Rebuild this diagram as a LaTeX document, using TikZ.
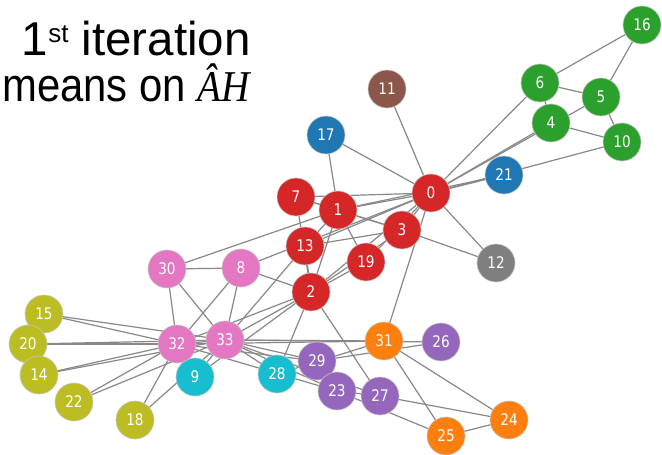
\documentclass[tikz,border=0pt]{standalone}
\usepackage{fontspec}
\usepackage{graphicx}
\setmainfont{Liberation Sans}
\newfontfamily\lblfont[FakeStretch=0.85]{DejaVu Sans}
\newfontfamily\symfont{Liberation Serif}
\usetikzlibrary{backgrounds}
\definecolor{tred}{HTML}{D62728}
\definecolor{tgreen}{HTML}{2CA02C}
\definecolor{tblue}{HTML}{1F77B4}
\definecolor{tbrown}{HTML}{8C564B}
\definecolor{tgray}{HTML}{7F7F7F}
\definecolor{tpink}{HTML}{E377C2}
\definecolor{tolive}{HTML}{BCBD22}
\definecolor{tcyan}{HTML}{17BECF}
\definecolor{tpurple}{HTML}{9467BD}
\definecolor{torange}{HTML}{FF7F0E}
\definecolor{edgegray}{HTML}{888888}
\begin{document}
\begin{tikzpicture}[x=1pt,y=-1pt,
  vtx/.style={circle, minimum size=38pt, inner sep=0pt, draw=gray!45,
    line width=0.6pt, text=white, font=\lblfont\fontsize{16}{16}\selectfont},
  edge/.style={draw=edgegray, line width=1.2pt},
  title/.style={anchor=base east, inner sep=0pt}]
\useasboundingbox (0,0) rectangle (662,455);

% title
\node[title, font=\fontsize{47.5}{47.5}\selectfont] (t1) at (251,55)
  {1\raisebox{13pt}{\fontsize{26}{26}\selectfont st} iteration};
\node[title, font=\fontsize{47}{47}\selectfont] (t2) at (250,101)
  {\scalebox{0.89}[1]{means on {\symfont\itshape\fontsize{44}{44}\selectfont ÂH}}};

% vertices, coloured by community
\foreach \i/\x/\y/\c in {
  0/431/193/tred, 1/338/210/tred, 2/311/292/tred, 3/402/230/tred,
  4/551/123/tgreen, 5/601/97/tgreen, 6/540/83/tgreen, 7/296/197/tred,
  8/241/268/tpink, 9/195/377/tcyan, 10/622/142/tgreen, 11/387/89/tbrown,
  12/496/263/tgray, 13/305/246/tred, 15/44/314/tolive, 20/28/344/tolive,
  14/39/375/tolive, 16/642/25/tgreen, 17/326/135/tblue, 18/135/420/tolive,
  19/366/262/tred, 21/504/175/tblue, 22/74/402/tolive, 24/509/420/torange,
  25/446/436/torange, 26/441/342/tpurple, 27/380/396/tpurple,
  28/277/374/tcyan, 29/317/361/tpurple, 23/337/391/tpurple,
  30/167/269/tpink, 31/384/341/torange, 32/177/344/tpink, 33/225/340/tpink}
  \node[vtx, fill=\c] (v\i) at (\x,\y) {\i};

% edges
\begin{scope}[on background layer]
  \fill[white] (0,0) rectangle (662,455);
  \foreach \a/\b in {
    0/1,0/2,0/3,0/4,0/5,0/6,0/7,0/8,0/10,0/11,0/12,0/13,0/17,0/19,0/21,0/31,
    1/2,1/3,1/7,1/13,1/17,1/19,1/21,1/30,
    2/3,2/7,2/8,2/9,2/13,2/27,2/28,2/32,
    3/7,3/12,3/13,
    4/6,4/10,5/6,5/10,5/16,6/16,
    8/30,8/32,8/33,9/33,13/33,14/32,14/33,15/32,15/33,18/32,18/33,
    19/33,20/32,20/33,22/32,22/33,
    23/25,23/27,23/29,23/32,23/33,
    24/25,24/27,24/31,25/31,26/29,26/33,27/33,28/31,28/33,
    29/32,29/33,30/32,30/33,31/32,31/33,32/33}
    \draw[edge] (v\a.center) -- (v\b.center);
\end{scope}
\end{tikzpicture}
\end{document}
